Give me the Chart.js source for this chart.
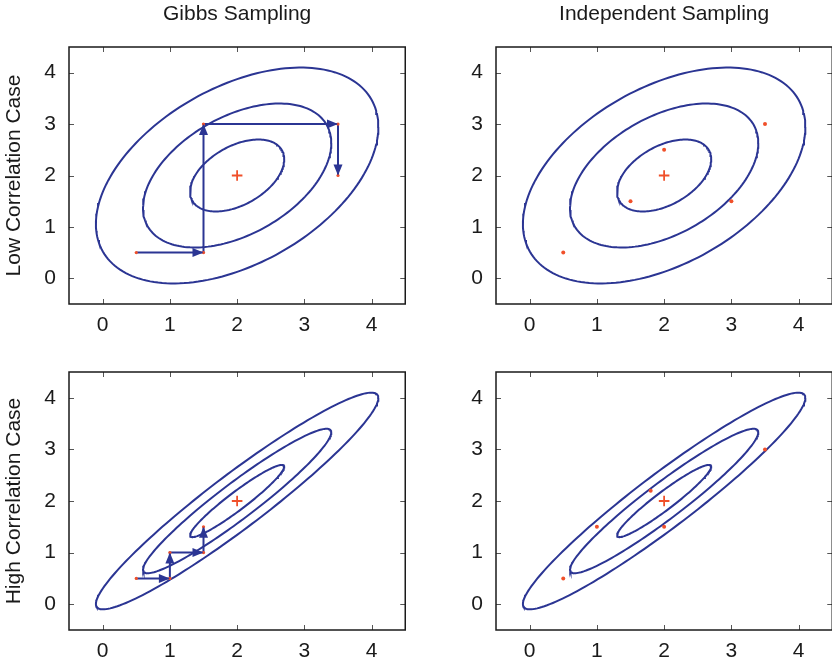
<!DOCTYPE html>
<html><head><meta charset="utf-8">
<script src="https://cdn.jsdelivr.net/npm/chart.js@4"></script>
<style>
html,body{margin:0;padding:0;background:#fff;overflow:hidden;width:832px;height:665px;position:relative;}
canvas{position:absolute;}
</style></head><body>
<canvas id="c0" width="416" height="340" style="left:0px;top:0px"></canvas>
<canvas id="c1" width="416" height="340" style="left:427px;top:0px"></canvas>
<canvas id="c2" width="416" height="341" style="left:0px;top:325px"></canvas>
<canvas id="c3" width="416" height="341" style="left:427px;top:325px"></canvas>
<script>
// ---- data ----
const tickValues = [0, 1, 2, 3, 4];
const axisMin = -0.5, axisMax = 4.5;
const columnTitles = ['Gibbs Sampling', 'Independent Sampling'];
const rowTitles = ['Low Correlation Case', 'High Correlation Case'];
const meanPoint = [2, 2];
const contourSigma = 0.7;
const rhoLow = 0.45, rhoHigh = 0.95;
const contourLevels = [1, 2, 3];
const gibbsLowX = [0.5, 1.5, 1.5, 3.5, 3.5];
const gibbsLowY = [0.5, 0.5, 3, 3, 2];
const gibbsHighX = [0.5, 1, 1, 1.5, 1.5];
const gibbsHighY = [0.5, 0.5, 1, 1, 1.5];
const indepLowX = [0.5, 1.5, 2, 3, 3.5];
const indepLowY = [0.5, 1.5, 2.5, 1.5, 3];
const indepHighX = [0.5, 1, 1.8, 2, 3.5];
const indepHighY = [0.5, 1.5, 2.2, 1.5, 3];

const BLUE = '#2b3593', RED = '#f0502a', TEXT = '#1a1a1a';
const FONT = "'Liberation Sans', Arial, Helvetica, sans-serif";

function zip(xs, ys) { return xs.map((x, i) => ({x, y: ys[i]})); }
// contour of a bivariate normal with equal sigmas and correlation rho
function contour(rho, k) {
  const pts = [];
  const c = Math.sqrt(1 - rho * rho);
  for (let d = 0; d <= 360; d += 2) {
    const t = d * Math.PI / 180;
    pts.push({x: meanPoint[0] + k * contourSigma * Math.cos(t),
              y: meanPoint[1] + k * contourSigma * (rho * Math.cos(t) + c * Math.sin(t))});
  }
  return pts;
}

const arrowPlugin = {
  id: 'arrowHeads',
  afterDatasetsDraw(chart) {
    const ctx = chart.ctx;
    chart.data.datasets.forEach((ds, i) => {
      if (!ds.arrowHeads) return;
      const pts = chart.getDatasetMeta(i).data;
      ctx.save();
      ctx.fillStyle = ds.borderColor;
      for (let k = 1; k < pts.length; k++) {
        const a = pts[k - 1], b = pts[k];
        const ang = Math.atan2(b.y - a.y, b.x - a.x);
        const L = 11, W = 4.5;
        const cx = b.x - L * Math.cos(ang), cy = b.y - L * Math.sin(ang);
        ctx.beginPath();
        ctx.moveTo(b.x, b.y);
        ctx.lineTo(cx + W * Math.sin(ang), cy - W * Math.cos(ang));
        ctx.lineTo(cx - W * Math.sin(ang), cy + W * Math.cos(ang));
        ctx.closePath();
        ctx.fill();
      }
      ctx.restore();
    });
  }
};

const framePlugin = {
  id: 'frame',
  afterDraw(chart) {
    const ctx = chart.ctx, a = chart.chartArea;
    const xs = chart.scales.x, ys = chart.scales.y;
    ctx.save();
    ctx.strokeStyle = '#555';
    ctx.lineWidth = 1;
    const T = 5;
    tickValues.forEach(v => {
      const px = Math.round(xs.getPixelForValue(v)) + 0.5;
      ctx.beginPath();
      ctx.moveTo(px, a.bottom); ctx.lineTo(px, a.bottom - T);
      ctx.moveTo(px, a.top); ctx.lineTo(px, a.top + T);
      ctx.stroke();
      const py = Math.round(ys.getPixelForValue(v)) + 0.5;
      ctx.beginPath();
      ctx.moveTo(a.left, py); ctx.lineTo(a.left + T, py);
      ctx.moveTo(a.right, py); ctx.lineTo(a.right - T, py);
      ctx.stroke();
    });
    ctx.strokeStyle = '#1a1a1a';
    ctx.lineWidth = 1.5;
    ctx.strokeRect(a.left, a.top, a.right - a.left, a.bottom - a.top);
    ctx.restore();
  }
};

function makeChart(id, row, col) {
  const rho = row === 0 ? rhoLow : rhoHigh;
  const datasets = [];
  datasets.push({data: [{x: meanPoint[0], y: meanPoint[1]}], pointStyle: 'cross', pointRadius: 5.3,
    borderColor: RED, borderWidth: 1.8, showLine: false});
  if (col === 0) {
    const px = row === 0 ? gibbsLowX : gibbsHighX;
    const py = row === 0 ? gibbsLowY : gibbsHighY;
    datasets.push({data: zip(px, py), pointRadius: 1.6, pointBorderWidth: 0, backgroundColor: RED,
      borderColor: RED, showLine: false});
    datasets.push({data: zip(px, py), showLine: true, pointRadius: 0, borderColor: BLUE,
      borderWidth: 2, arrowHeads: true, fill: false});
  } else {
    const px = row === 0 ? indepLowX : indepHighX;
    const py = row === 0 ? indepLowY : indepHighY;
    datasets.push({data: zip(px, py), pointRadius: 2, pointBorderWidth: 0, backgroundColor: RED,
      borderColor: RED, showLine: false});
  }
  contourLevels.forEach(k => {
    datasets.push({data: contour(rho, k), showLine: true, pointRadius: 0, borderColor: BLUE,
      borderWidth: 2, fill: false, tension: 0});
  });
  const tickFont = {family: FONT, size: 21};
  new Chart(document.getElementById(id), {
    type: 'scatter',
    data: {datasets},
    plugins: [arrowPlugin, framePlugin],
    options: {
      responsive: false, animation: false, devicePixelRatio: 1,
      layout: {padding: {top: row === 0 ? 0 : 47, right: 10.75, left: 0, bottom: 0}},
      plugins: {
        legend: {display: false}, tooltip: {enabled: false},
        title: {display: row === 0, text: columnTitles[col], fullSize: false,
          font: {family: FONT, size: 21, weight: 'normal'}, color: TEXT,
          padding: {top: 2, bottom: 19.8}}
      },
      scales: {
        x: {type: 'linear', min: axisMin, max: axisMax,
          afterBuildTicks: s => { s.ticks = tickValues.map(v => ({value: v})); },
          afterFit: s => { s.height = 36; },
          grid: {display: false, drawTicks: false}, border: {display: false},
          ticks: {font: tickFont, color: TEXT, padding: 9, maxRotation: 0}},
        y: {type: 'linear', min: axisMin, max: axisMax,
          afterBuildTicks: s => { s.ticks = tickValues.map(v => ({value: v})); },
          afterFit: s => { s.width = 69; },
          grid: {display: false, drawTicks: false}, border: {display: false},
          ticks: {font: tickFont, color: TEXT, padding: 13},
          title: {display: col === 0, text: rowTitles[row], color: TEXT,
            font: {family: FONT, size: 21, weight: 'normal'}, padding: {top: 1.5, bottom: 0}}}
      }
    }
  });
}
makeChart('c0', 0, 0);
makeChart('c1', 0, 1);
makeChart('c2', 1, 0);
makeChart('c3', 1, 1);
</script>
</body></html>
